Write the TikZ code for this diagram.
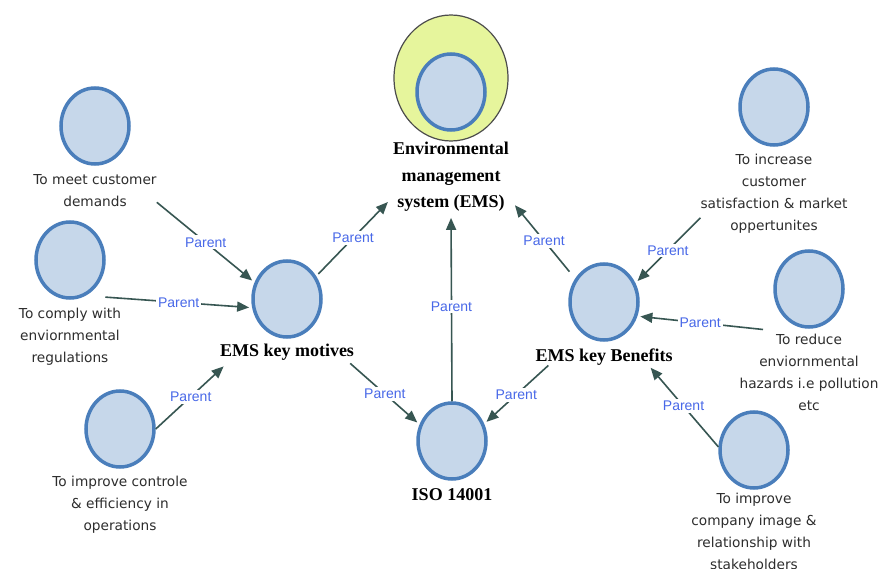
\documentclass[tikz,border=0pt]{standalone}
\usepackage{fontspec}
\setmainfont{DejaVu Sans}
\newfontfamily\capfont{DejaVu Sans}
\newfontfamily\headfont{Liberation Serif}
\newfontfamily\linkfont{Liberation Sans}
\usetikzlibrary{shapes.geometric,arrows.meta}

\definecolor{bubblefill}{RGB}{198,215,234}
\definecolor{bubbleline}{RGB}{74,126,187}
\definecolor{corefill}{RGB}{230,245,156}
\definecolor{linkline}{RGB}{55,86,82}
\definecolor{linktext}{RGB}{72,104,232}
\definecolor{captext}{RGB}{45,45,45}

\tikzset{
  bubble/.style={ellipse, draw=bubbleline, fill=bubblefill, line width=3.5pt,
    minimum width=68pt, minimum height=76pt, inner sep=0pt},
  core/.style={ellipse, draw=black!70, fill=corefill, line width=1.2pt,
    minimum width=114pt, minimum height=126pt, inner sep=0pt},
  caption/.style={align=center, inner sep=0pt, text=captext,
    font=\capfont\fontsize{13.7}{22}\selectfont},
  heading/.style={align=center, inner sep=0pt, text=black,
    font=\headfont\bfseries\fontsize{18}{26.5}\selectfont},
  rel/.style={draw=linkline, line width=1.6pt,
    -{Triangle[length=12pt,width=10pt]}, shorten >=3pt},
  tag/.style={fill=white, inner sep=2pt, text=linktext,
    font=\linkfont\fontsize{14}{16}\selectfont},
}

\begin{document}
\begin{tikzpicture}[x=1pt,y=-1pt]
\useasboundingbox (0,0) rectangle (883,569);
\fill[white] (0,0) rectangle (883,569);
\clip (0,0) rectangle (883,569);

% central concept
\node[core] (emsring) at (451,78) {};
\node[bubble] (ems) at (451,92) {};
\node[heading] (emslab) at (451,177) {Environmental\\management\\system (EMS)};

% motives side
\node[bubble] (cust) at (95,126) {};
\node[caption] (custlab) at (95,191) {To meet customer\\demands};
\node[bubble] (regs) at (70,260) {};
\node[caption] (regslab) at (70,337) {To comply with\\enviornmental\\regulations};
\node[bubble] (ctrl) at (120,429) {};
\node[caption] (ctrllab) at (120,505) {To improve controle\\\& efficiency in\\operations};
\node[bubble] (mot) at (287,299) {};
\node[heading] (motlab) at (287,352) {EMS key motives};

% standard
\node[bubble] (iso) at (452,441) {};
\node[heading] (isolab) at (452,495) {ISO 14001};

% benefits side
\node[bubble] (ben) at (604,302) {};
\node[heading] (benlab) at (604,357) {EMS key Benefits};
\node[bubble] (sat) at (774,107) {};
\node[caption] (satlab) at (774,194) {To increase\\customer\\satisfaction \& market\\oppertunites};
\node[bubble] (haz) at (809,289) {};
\node[caption] (hazlab) at (809,372) {To reduce\\enviornmental\\hazards i.e pollution\\etc};
\node[bubble] (img) at (754,450) {};
\node[caption] (imglab) at (754,531) {To improve\\company image \&\\relationship with\\stakeholders};

% parent links
\draw[rel] ([yshift=5pt]custlab.south east) -- node[tag]{Parent} (mot.153);
\draw[rel] ([shift={(10,9)}]regs.south east) -- node[tag]{Parent} (mot.194);
\draw[rel] (ctrl.east) -- node[tag]{Parent} ([shift={(6,4)}]motlab.south west);
\draw[rel, shorten <=3pt] (mot.38) -- node[tag]{Parent} ([shift={(-3,-12)}]emslab.south west);
\draw[rel] ([shift={(-4,3)}]motlab.south east) -- node[tag]{Parent} (iso.153);
\draw[rel, shorten >=6pt] (iso.north) -- node[tag]{Parent} (emslab.south);
\draw[rel, shorten <=9pt] (ben.141) -- node[tag]{Parent} ([shift={(4,-9)}]emslab.south east);
\draw[rel] ([shift={(13,0)}]benlab.south west) -- node[tag]{Parent} (iso.28);
\draw[rel] ([yshift=16pt]satlab.south west) -- node[tag]{Parent} (ben.31);
\draw[rel] ([shift={(-46,-4)}]hazlab.north) -- node[tag]{Parent} (ben.-23);
\draw[rel] (img.175) -- node[tag]{Parent} ([shift={(-24,0)}]benlab.south east);
\end{tikzpicture}
\end{document}
